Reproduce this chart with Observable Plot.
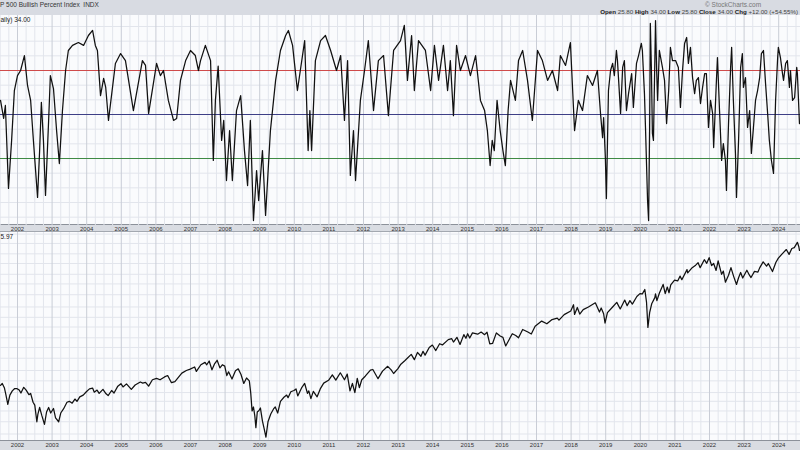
<!DOCTYPE html>
<html><head><meta charset="utf-8">
<script src="https://cdn.jsdelivr.net/npm/d3@7"></script>
<script src="https://cdn.jsdelivr.net/npm/@observablehq/plot@0.6"></script>
<style>
body{margin:0;background:#fff;width:800px;height:450px;overflow:hidden;font-family:"Liberation Sans",Arial,sans-serif;}
#hdr{position:relative;height:15px;background:#d8dbe2;overflow:hidden;white-space:nowrap;color:#333;}
#hdr .t1{position:absolute;left:0;top:1px;font-size:6.5px;}
#hdr .sc{position:absolute;left:705px;top:1px;font-size:6.5px;color:#777;}
#hdr .ohlc{position:absolute;right:2px;top:8px;font-size:6.2px;color:#444;}
#hdr .ohlc b{color:#222;}
#top,#bot{width:800px;overflow:hidden;}
svg{display:block;}
</style></head><body>
<div id="hdr"><span class="t1">P 500 Bullish Percent Index &nbsp;INDX</span><span class="sc">© StockCharts.com</span><span class="ohlc"><b>Open</b> 25.80 <b>High</b> 34.00 <b>Low</b> 25.80 <b>Close</b> 34.00 <b>Chg</b> +12.00 (+54.55%)</span></div>
<div id="top"></div>
<div id="bot"></div>
<script>
// ---- tick labels ----
const yearTicks = [2002,2003,2004,2005,2006,2007,2008,2009,2010,2011,2012,2013,2014,2015,2016,2017,2018,2019,2020,2021,2022,2023,2024];

// ---- S&P 500 Bullish Percent Index (decimal year, value) ----
const bpiTime = [2001.51,2001.60,2001.65,2001.74,2001.83,2001.91,2002.00,2002.09,2002.20,2002.29,2002.38,2002.46,2002.58,2002.64,2002.69,2002.75,2002.81,2002.90,2002.95,2003.04,2003.13,2003.21,2003.30,2003.39,2003.47,2003.59,2003.76,2003.91,2004.05,2004.17,2004.25,2004.31,2004.40,2004.49,2004.55,2004.63,2004.83,2004.98,2005.12,2005.35,2005.61,2005.70,2005.79,2006.02,2006.13,2006.22,2006.36,2006.51,2006.60,2006.71,2006.86,2007.00,2007.14,2007.23,2007.29,2007.43,2007.58,2007.66,2007.72,2007.80,2007.90,2007.96,2008.04,2008.13,2008.21,2008.33,2008.45,2008.56,2008.65,2008.73,2008.82,2008.91,2008.97,2009.08,2009.17,2009.31,2009.46,2009.60,2009.75,2009.83,2009.95,2010.09,2010.30,2010.40,2010.45,2010.50,2010.61,2010.76,2010.90,2011.05,2011.22,2011.34,2011.45,2011.54,2011.62,2011.71,2011.77,2011.91,2012.03,2012.14,2012.29,2012.43,2012.58,2012.72,2012.87,2013.07,2013.18,2013.27,2013.39,2013.47,2013.59,2013.79,2013.94,2014.05,2014.17,2014.31,2014.43,2014.51,2014.60,2014.69,2014.80,2014.95,2015.09,2015.24,2015.38,2015.50,2015.58,2015.66,2015.72,2015.78,2015.86,2015.95,2016.03,2016.10,2016.18,2016.25,2016.39,2016.48,2016.60,2016.74,2016.88,2017.03,2017.17,2017.32,2017.46,2017.61,2017.69,2017.84,2017.98,2018.10,2018.21,2018.33,2018.47,2018.62,2018.76,2018.85,2018.91,2018.94,2018.99,2019.02,2019.08,2019.14,2019.20,2019.25,2019.31,2019.34,2019.43,2019.49,2019.54,2019.60,2019.66,2019.75,2019.80,2019.89,2019.95,2020.03,2020.06,2020.12,2020.15,2020.21,2020.24,2020.27,2020.29,2020.32,2020.35,2020.38,2020.44,2020.47,2020.50,2020.55,2020.64,2020.70,2020.76,2020.82,2020.87,2020.93,2021.02,2021.10,2021.16,2021.22,2021.28,2021.34,2021.39,2021.45,2021.51,2021.57,2021.62,2021.68,2021.74,2021.80,2021.86,2021.91,2021.97,2022.03,2022.09,2022.12,2022.20,2022.23,2022.29,2022.35,2022.40,2022.46,2022.49,2022.55,2022.61,2022.64,2022.69,2022.75,2022.78,2022.84,2022.90,2022.95,2022.98,2023.04,2023.10,2023.16,2023.21,2023.27,2023.33,2023.39,2023.45,2023.50,2023.56,2023.62,2023.68,2023.73,2023.79,2023.85,2023.91,2023.97,2023.99,2024.05,2024.11,2024.14,2024.20,2024.25,2024.31,2024.34,2024.40,2024.46,2024.52,2024.54,2024.60];
const bpiValue = [56.4,48.2,54.1,16.4,38.2,60.9,67.7,70,76.8,63.2,56.4,38.2,12.3,33.6,55.5,38.2,13.2,47.3,67.7,61.8,42.7,27.7,51.8,70,79.1,81.4,82.7,81.4,85.9,88.2,81.4,79.1,58.6,66.4,62.3,47.3,73.2,77.7,74.5,51.8,74.5,72.3,50.5,73.2,67.7,70,56.4,47.3,48.2,65.5,74.5,79.1,76.8,70,74.5,81.4,74.5,29.1,56.4,72,38.2,47.3,20,42.7,20,51.8,58.6,33.6,17.7,47.3,1.8,24.5,10.9,33.6,4.1,42.7,65.5,79.1,85.9,88.2,81.4,60.9,83.6,33.6,51.8,33.6,74.5,83.6,85.9,79.1,70,76.8,47.3,74.5,22.3,42.7,20,56.4,70,83.6,51.8,74.5,76.8,49.5,79.1,83.6,90.5,65.5,85.9,60.9,83.6,79.1,60.9,81.4,65.5,81.4,60.9,74.5,49.5,81.4,70,76.8,67.7,76.8,56.4,51.8,42.7,26.8,38.2,33.6,56.4,42.7,33.6,26.8,51.8,65.5,56.4,74.5,79.1,65.5,47.3,79.1,74.5,65.5,70,60.9,76.8,72.3,82.7,42.7,56.4,51.8,67.7,63.2,70,50.5,39.5,48.6,30.5,11.8,60.9,70,73.2,67.7,79.1,74.5,50.5,71.4,74.5,51.8,59.5,68.6,53.2,73.2,76.8,82.3,79.1,59.5,44.1,10.9,1.8,44.1,91.4,71.4,41.4,38.2,92.7,71.4,56.4,79.1,71.4,65.5,45.9,60.9,80.5,74.5,74.5,71.4,53.2,70,82.3,85,73.2,80.5,66.8,59.5,65.5,66.8,55,62.3,68.6,68.6,44.1,56.4,50.5,35,65.5,75.9,51.8,29.1,36.8,29.1,15.5,45.9,71.4,80.5,56.4,32.3,12.3,38.2,71.4,77.7,62.3,66.8,44.1,51.8,32.3,44.1,56.4,60.9,66.8,77.7,79.1,64.1,50.5,38.2,29.1,23.2,56.4,75.9,80.5,75.9,68.6,65.5,73.2,74.5,62.3,70,56.4,57.7,71.4,68.6,45.9];

// ---- S&P 500 index (decimal year, close) ----
const spxTime = [2001.51,2001.56,2001.62,2001.66,2001.72,2001.78,2001.85,2001.92,2001.99,2002.05,2002.10,2002.18,2002.25,2002.33,2002.38,2002.45,2002.50,2002.56,2002.59,2002.64,2002.70,2002.78,2002.84,2002.90,2002.96,2003.04,2003.10,2003.19,2003.25,2003.33,2003.43,2003.50,2003.58,2003.66,2003.72,2003.80,2003.90,2003.99,2004.08,2004.17,2004.22,2004.30,2004.36,2004.47,2004.56,2004.62,2004.72,2004.79,2004.90,2004.99,2005.05,2005.15,2005.29,2005.40,2005.55,2005.62,2005.70,2005.79,2005.90,2006.02,2006.12,2006.25,2006.34,2006.45,2006.55,2006.62,2006.75,2006.88,2006.99,2007.12,2007.17,2007.30,2007.42,2007.47,2007.54,2007.62,2007.70,2007.77,2007.85,2007.92,2007.99,2008.05,2008.10,2008.20,2008.30,2008.38,2008.46,2008.54,2008.62,2008.70,2008.74,2008.78,2008.82,2008.86,2008.89,2008.93,2008.98,2009.02,2009.08,2009.13,2009.18,2009.24,2009.32,2009.40,2009.45,2009.52,2009.60,2009.70,2009.78,2009.82,2009.90,2009.99,2010.05,2010.10,2010.22,2010.30,2010.38,2010.42,2010.48,2010.55,2010.66,2010.75,2010.85,2010.99,2011.10,2011.20,2011.33,2011.45,2011.53,2011.61,2011.68,2011.75,2011.82,2011.88,2011.95,2012.05,2012.20,2012.27,2012.42,2012.55,2012.70,2012.80,2012.87,2012.99,2013.08,2013.20,2013.38,2013.47,2013.56,2013.66,2013.72,2013.78,2013.90,2013.99,2014.09,2014.20,2014.28,2014.45,2014.55,2014.60,2014.70,2014.79,2014.90,2014.96,2015.01,2015.07,2015.15,2015.30,2015.40,2015.50,2015.57,2015.65,2015.73,2015.84,2015.95,2016.03,2016.11,2016.30,2016.40,2016.48,2016.60,2016.75,2016.85,2016.96,2017.15,2017.30,2017.45,2017.60,2017.65,2017.80,2017.99,2018.07,2018.10,2018.18,2018.25,2018.35,2018.50,2018.70,2018.82,2018.87,2018.94,2018.98,2019.05,2019.20,2019.32,2019.42,2019.55,2019.62,2019.70,2019.77,2019.90,2019.99,2020.06,2020.13,2020.18,2020.22,2020.27,2020.33,2020.42,2020.44,2020.48,2020.55,2020.66,2020.72,2020.78,2020.83,2020.88,2020.99,2021.08,2021.15,2021.20,2021.35,2021.37,2021.50,2021.60,2021.67,2021.73,2021.85,2021.92,2021.99,2022.06,2022.12,2022.19,2022.25,2022.35,2022.40,2022.46,2022.55,2022.62,2022.70,2022.78,2022.84,2022.90,2022.96,2023.08,2023.15,2023.20,2023.30,2023.40,2023.45,2023.55,2023.65,2023.70,2023.82,2023.92,2023.99,2024.10,2024.22,2024.30,2024.38,2024.45,2024.54,2024.58,2024.60];
const spxValue = [1190,1215,1160,1085,966,1070,1120,1150,1148,1130,1095,1165,1130,1075,1090,990,960,800,870,935,860,777,890,935,880,925,835,800,880,920,990,1000,980,1025,1000,1050,1070,1110,1145,1155,1105,1130,1090,1140,1085,1065,1125,1095,1180,1212,1170,1210,1140,1195,1235,1220,1230,1180,1265,1285,1265,1305,1325,1225,1240,1280,1360,1400,1420,1455,1385,1490,1530,1490,1553,1410,1510,1565,1440,1490,1468,1325,1380,1275,1395,1425,1340,1215,1290,1250,1100,900,940,850,750,890,905,930,805,740,677,800,870,920,940,880,1000,1045,1070,1040,1110,1125,1145,1060,1165,1215,1090,1120,1030,1115,1050,1145,1220,1258,1335,1260,1365,1265,1345,1120,1215,1100,1285,1160,1265,1315,1405,1415,1280,1390,1465,1410,1355,1426,1500,1560,1670,1575,1705,1635,1725,1655,1800,1848,1740,1875,1850,1960,1980,1910,2010,1860,2070,1990,2090,1995,2110,2080,2130,2070,2125,1870,1880,2110,2040,2010,1830,2090,2050,2000,2190,2130,2085,2270,2400,2330,2440,2480,2425,2575,2680,2870,2580,2785,2590,2720,2800,2930,2650,2770,2600,2350,2630,2800,2945,2740,3020,2840,3000,2890,3140,3240,3230,3390,2950,2240,2630,2900,3100,3230,3000,3250,3580,3240,3480,3270,3560,3756,3720,3920,3770,4210,4060,4300,4420,4535,4300,4690,4510,4796,4400,4500,4170,4630,4000,4140,3670,3960,4300,3900,3580,3850,4080,3840,4180,3970,3860,4130,4100,4290,4580,4370,4500,4120,4560,4770,5000,5240,4970,5300,5350,5670,5420,5190];

// ---- reference levels and grid values ----
const bpiLevels = [70, 50, 30];
const bpiLevelColors = ["#cf4b4b", "#3d3f86", "#3f8a44"];
const bpiGrid = [3.33,10,16.67,23.33,36.67,43.33,56.67,63.33,76.67,83.33,90];
const spxGrid = [700,800,900,1000,1100,1250,1400,1600,1800,2000,2250,2500,2800,3200,3600,4000,4500,5000,5600,6200];

const bpi = bpiTime.map((t, i) => ({t, v: bpiValue[i]}));
const spx = spxTime.map((t, i) => ({t, v: spxValue[i]}));

const quarters = [];
for (let y = 2001; y <= 2025; y++) for (const q of [0.25, 0.5, 0.75]) quarters.push(y + q);

const xDomain = [2001.509, 2024.630];
const gridLight = "#e2e5ec";
const gridYear = "#c9cdd6";

function bg(panelH, totalH) {
  return `linear-gradient(to bottom, #fafbfd 0px, #fafbfd ${panelH - 0.5}px, #8c919a ${panelH - 0.5}px, #8c919a ${panelH + 0.5}px, #d9dce2 ${panelH + 0.5}px, #d9dce2 ${totalH - 1}px, #a3a8b0 ${totalH - 1}px)`;
}

const topH = 217, topMB = 7;
const topPlot = Plot.plot({
  width: 800, height: topH,
  marginLeft: 0, marginRight: 0, marginTop: 0, marginBottom: topMB,
  style: {background: bg(topH - topMB, topH), fontFamily: "Liberation Sans, Arial, sans-serif", overflow: "hidden"},
  x: {domain: xDomain, axis: null},
  y: {domain: [-0.45, 95], axis: null},
  marks: [
    Plot.ruleX(quarters, {stroke: gridLight, strokeWidth: 1}),
    Plot.ruleY(bpiGrid, {stroke: gridLight, strokeWidth: 1}),
    Plot.ruleX(yearTicks, {stroke: gridYear, strokeWidth: 1}),
    Plot.ruleY(bpiLevels, {stroke: (d, i) => bpiLevelColors[i], strokeWidth: 1}),
    Plot.line(bpi, {x: "t", y: "v", stroke: "#111", strokeWidth: 1.25, clip: true}),
    Plot.text(["aily) 34.00"], {frameAnchor: "top-left", dx: 0, dy: 2, fontSize: 6.5, fill: "#222", textAnchor: "start"}),
    Plot.axisX(yearTicks, {tickSize: 0, tickPadding: 1.5, tickFormat: d => String(d), fontSize: 6, fill: "#333", label: null})
  ]
});
document.getElementById("top").appendChild(topPlot);

const botH = 218, botMB = 10;
const botPlot = Plot.plot({
  width: 800, height: botH,
  marginLeft: 0, marginRight: 0, marginTop: 0, marginBottom: botMB,
  style: {background: bg(botH - botMB, botH + 2), fontFamily: "Liberation Sans, Arial, sans-serif", overflow: "hidden"},
  x: {domain: xDomain, axis: null},
  y: {type: "log", domain: [652, 6311], axis: null},
  marks: [
    Plot.ruleX(quarters, {stroke: gridLight, strokeWidth: 1}),
    Plot.ruleY(spxGrid, {stroke: gridLight, strokeWidth: 1}),
    Plot.ruleX(yearTicks, {stroke: gridYear, strokeWidth: 1}),
    Plot.line(spx, {x: "t", y: "v", stroke: "#111", strokeWidth: 1.25, clip: true}),
    Plot.text(["5.97"], {frameAnchor: "top-left", dx: 0, dy: 2, fontSize: 6.5, fill: "#222", textAnchor: "start"}),
    Plot.axisX(yearTicks, {tickSize: 0, tickPadding: 2.5, tickFormat: d => String(d), fontSize: 6, fill: "#333", label: null})
  ]
});
document.getElementById("bot").appendChild(botPlot);
</script>
</body></html>
